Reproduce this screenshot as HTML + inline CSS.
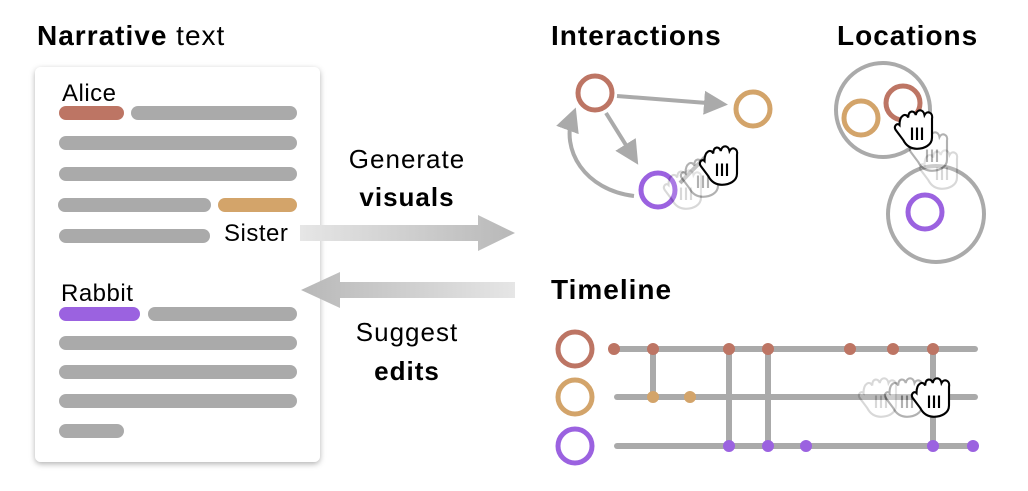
<!DOCTYPE html>
<html><head><meta charset="utf-8"><style>
body{margin:0;background:#fff;width:1028px;height:486px;overflow:hidden}
text{font-family:"Liberation Sans",sans-serif;fill:#000}
.h{font-size:28px;letter-spacing:1px}
</style></head><body>
<svg width="1028" height="486" viewBox="0 0 1028 486" xmlns="http://www.w3.org/2000/svg">
<defs>
<filter id="sh" x="-10%" y="-10%" width="120%" height="120%"><feDropShadow dx="0" dy="2" stdDeviation="3" flood-color="#000" flood-opacity="0.3"/></filter>
<linearGradient id="gr" x1="0" x2="1"><stop offset="0" stop-color="#e6e6e6"/><stop offset="1" stop-color="#b8b8b8"/></linearGradient>
<linearGradient id="gl" x1="1" x2="0"><stop offset="0" stop-color="#e6e6e6"/><stop offset="1" stop-color="#b8b8b8"/></linearGradient>
<marker id="ah" markerWidth="6" markerHeight="6" refX="4" refY="3" orient="auto" markerUnits="strokeWidth"><path d="M0,0 L6,3 L0,6 z" fill="#aaa"/></marker>
<g id="h0"><path d="M-14,-4 C-14,-12 -9,-14 -7,-10 C-7,-16 -2,-16 -1,-12 C0,-17 5,-17 6,-12 C8,-16 13,-14 12,-9 L12,6 C12,12 6,15 0,15 C-6,15 -9,12 -11,8 L-17,0 C-19,-3 -16,-6 -14,-4 Z" fill="#fff" stroke="#000" stroke-width="1.7"/><path d="M-4,-2 V8 M0,-2 V8 M4,-2 V8" stroke="#000" stroke-width="1.7"/></g>
<g id="hand"><use href="#h0" transform="scale(1.25)"/></g>
</defs>
<text x="37" y="45" class="h"><tspan font-weight="bold">Narrative</tspan> text</text>
<rect x="35" y="67" width="285" height="395" rx="6" fill="#fff" filter="url(#sh)"/>
<g stroke-linecap="round" stroke-width="14">
<line x1="66" y1="113" x2="117" y2="113" stroke="#bd7564"/>
<line x1="138" y1="113" x2="290" y2="113" stroke="#aaa"/>
<line x1="66" y1="143" x2="290" y2="143" stroke="#aaa"/>
<line x1="66" y1="174" x2="290" y2="174" stroke="#aaa"/>
<line x1="65" y1="205" x2="204" y2="205" stroke="#aaa"/>
<line x1="225" y1="205" x2="290" y2="205" stroke="#d3a46a"/>
<line x1="66" y1="236" x2="203" y2="236" stroke="#aaa"/>
<line x1="66" y1="314" x2="133" y2="314" stroke="#9b62e0"/>
<line x1="155" y1="314" x2="290" y2="314" stroke="#aaa"/>
<line x1="66" y1="343" x2="290" y2="343" stroke="#aaa"/>
<line x1="66" y1="372" x2="290" y2="372" stroke="#aaa"/>
<line x1="66" y1="401" x2="290" y2="401" stroke="#aaa"/>
<line x1="66" y1="431" x2="117" y2="431" stroke="#aaa"/>
</g>
<text x="62" y="101" font-size="24" letter-spacing="0.5">Alice</text>
<text x="224" y="241" font-size="24" letter-spacing="0.5">Sister</text>
<text x="61" y="301" font-size="24" letter-spacing="0.5">Rabbit</text>
<path d="M300,225 H478 V215 L515,233 L478,251 V241 H300 Z" fill="url(#gr)"/>
<path d="M515,282 H340 V272 L301,290 L340,308 V298 H515 Z" fill="url(#gl)"/>
<text x="407" y="168" font-size="26" text-anchor="middle" letter-spacing="1">Generate</text>
<text x="407" y="206" font-size="26" text-anchor="middle" font-weight="bold" letter-spacing="1">visuals</text>
<text x="407" y="341" font-size="26" text-anchor="middle" letter-spacing="1">Suggest</text>
<text x="407" y="380" font-size="26" text-anchor="middle" font-weight="bold" letter-spacing="1">edits</text>
<text x="551" y="45" class="h" font-weight="bold">Interactions</text>
<text x="837" y="45" class="h" font-weight="bold">Locations</text>
<text x="551" y="299" class="h" font-weight="bold">Timeline</text>
<g fill="none" stroke="#aaa" stroke-width="4">
<line x1="617" y1="96" x2="720" y2="104" marker-end="url(#ah)"/>
<line x1="606" y1="113" x2="634" y2="158" marker-end="url(#ah)"/>
<path d="M634,196 C585,190 560,150 573,115" marker-end="url(#ah)"/>
<line x1="680" y1="183" x2="710" y2="152"/>
<circle cx="883" cy="110" r="47"/>
<circle cx="936" cy="214" r="48"/>
</g>
<g fill="none" stroke-width="5">
<circle cx="595" cy="93" r="17" stroke="#bd7564"/>
<circle cx="753" cy="109" r="17" stroke="#d3a46a"/>
<circle cx="658" cy="190" r="17" stroke="#9b62e0"/>
<circle cx="861" cy="118" r="17" stroke="#d3a46a"/>
<circle cx="903" cy="103" r="17" stroke="#bd7564"/>
<circle cx="925" cy="212" r="17" stroke="#9b62e0"/>
<circle cx="575" cy="349" r="17" stroke="#bd7564"/>
<circle cx="575" cy="397" r="17" stroke="#d3a46a"/>
<circle cx="575" cy="446" r="17" stroke="#9b62e0"/>
</g>
<g stroke="#aaa" stroke-width="6" stroke-linecap="round">
<line x1="614" y1="349" x2="975" y2="349"/>
<line x1="617" y1="397" x2="975" y2="397"/>
<line x1="617" y1="446" x2="975" y2="446"/>
<line x1="653" y1="349" x2="653" y2="397"/>
<line x1="729" y1="349" x2="729" y2="446"/>
<line x1="768" y1="349" x2="768" y2="446"/>
<line x1="933" y1="349" x2="933" y2="446"/>
</g>
<g fill="#bd7564"><circle cx="614" cy="349" r="6"/><circle cx="653" cy="349" r="6"/><circle cx="729" cy="349" r="6"/><circle cx="768" cy="349" r="6"/><circle cx="850" cy="349" r="6"/><circle cx="893" cy="349" r="6"/><circle cx="933" cy="349" r="6"/></g>
<g fill="#d3a46a"><circle cx="653" cy="397" r="6"/><circle cx="690" cy="397" r="6"/></g>
<g fill="#9b62e0"><circle cx="729" cy="446" r="6"/><circle cx="768" cy="446" r="6"/><circle cx="806" cy="446" r="6"/><circle cx="933" cy="446" r="6"/><circle cx="973" cy="446" r="6"/></g>
<use href="#hand" x="686" y="190" opacity="0.15"/>
<use href="#hand" x="703" y="178" opacity="0.3"/>
<use href="#hand" x="722" y="166"/>
<use href="#hand" x="942" y="170" opacity="0.15"/>
<use href="#hand" x="932" y="152" opacity="0.3"/>
<use href="#hand" x="917" y="130"/>
<use href="#hand" x="881" y="398" opacity="0.15"/>
<use href="#hand" x="907" y="398" opacity="0.3"/>
<use href="#hand" x="934" y="398"/>
</svg>
</body></html>
